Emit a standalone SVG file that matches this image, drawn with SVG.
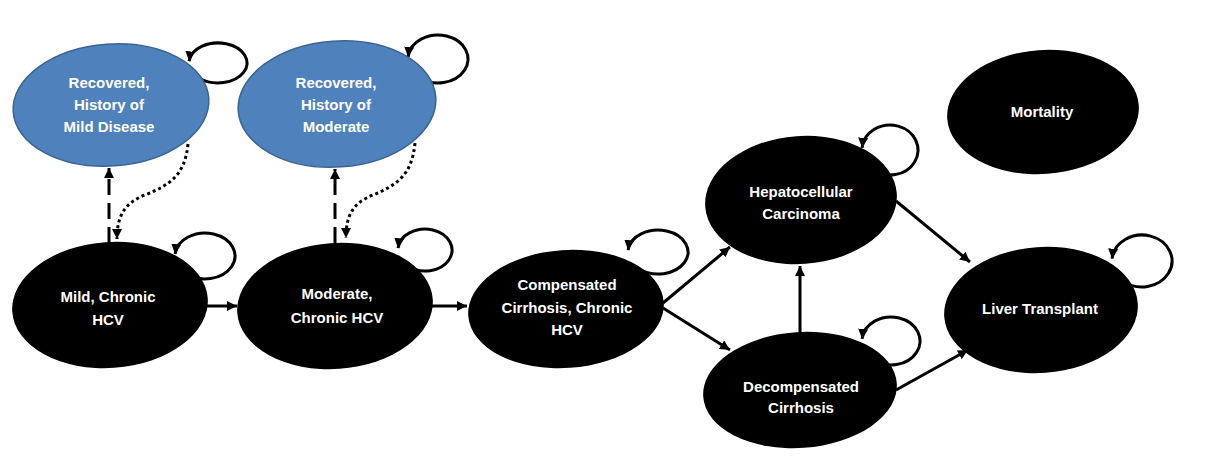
<svg xmlns="http://www.w3.org/2000/svg" width="1220" height="461" viewBox="0 0 1220 461">
<style>
.blue{fill:#4F81BD;stroke:#3B6493;stroke-width:1.5}
.blk{fill:#000}
.t{font-family:"Liberation Sans",Arial,sans-serif;font-weight:bold;font-size:15px;fill:#fff;text-anchor:middle}
.c{fill:none;stroke:#000;stroke-width:3}
.dash{stroke-dasharray:16 8}
.dot{stroke-dasharray:3 3}
</style>
<defs>
<marker id="ah" markerUnits="userSpaceOnUse" markerWidth="11" markerHeight="10" refX="10" refY="5" orient="auto">
<path d="M0,0 L10,5 L0,10 z" fill="#000"/>
</marker>
</defs>
<rect width="1220" height="461" fill="#fff"/>
<g id="connectors">
<path class="c" d="M206,306 L237,306" marker-end="url(#ah)"/>
<path class="c" d="M432,306 L467,306" marker-end="url(#ah)"/>
<path class="c" d="M663,303 L730,247" marker-end="url(#ah)"/>
<path class="c" d="M663,308 L730,350" marker-end="url(#ah)"/>
<path class="c" d="M800,333 L800,266" marker-end="url(#ah)"/>
<path class="c" d="M896,201 L970,262" marker-end="url(#ah)"/>
<path class="c" d="M896,390 L968,350" marker-end="url(#ah)"/>
<path class="c dash" d="M109,243 L109,168" marker-end="url(#ah)"/>
<path class="c dash" d="M335,243 L335,169" marker-end="url(#ah)"/>
<path class="c dot" d="M188,144 C185,175 170,185 145,195 C125,203 117,215 117,239" marker-end="url(#ah)"/>
<path class="c dot" d="M415,143 C412,175 397,185 373,195 C353,203 346,215 346,238" marker-end="url(#ah)"/>
<path class="c" d="M199.4,78.3 A29,20 0 1 0 189.1,61.3" marker-end="url(#ah)"/>
<path class="c" d="M418.7,77.4 A30,24 0 1 0 408.1,56.9" marker-end="url(#ah)"/>
<path class="c" d="M185.7,273.6 A30,23 0 1 0 175.1,254" marker-end="url(#ah)"/>
<path class="c" d="M407.6,266.1 A27,21 0 1 0 398.1,248.2" marker-end="url(#ah)"/>
<path class="c" d="M638.7,268.9 A30,22 0 1 0 628.1,250.1" marker-end="url(#ah)"/>
<path class="c" d="M872,169.2 A28,25 0 1 0 862.1,147.8" marker-end="url(#ah)"/>
<path class="c" d="M872.4,359.4 A29,24 0 1 0 862.1,338.9" marker-end="url(#ah)"/>
<path class="c" d="M1122.7,280.9 A30,26 0 1 0 1112.1,258.7" marker-end="url(#ah)"/>
</g>
<g id="recovered-mild">
<ellipse class="blue" cx="111" cy="105" rx="98" ry="61" transform="rotate(-4 111 105)"/>
<text class="t" x="109" y="88">Recovered,</text>
<text class="t" x="109" y="110">History of</text>
<text class="t" x="109" y="132">Mild Disease</text>
</g>
<g id="recovered-moderate">
<ellipse class="blue" cx="337" cy="104" rx="99" ry="63" transform="rotate(-4 337 104)"/>
<text class="t" x="336" y="88">Recovered,</text>
<text class="t" x="336" y="110">History of</text>
<text class="t" x="336" y="132">Moderate</text>
</g>
<g id="mild-chronic">
<ellipse class="blk" cx="110" cy="305" rx="98" ry="63" transform="rotate(-4 110 305)"/>
<text class="t" x="108" y="302">Mild, Chronic</text>
<text class="t" x="108" y="325">HCV</text>
</g>
<g id="moderate-chronic">
<ellipse class="blk" cx="335" cy="306" rx="98" ry="63" transform="rotate(-4 335 306)"/>
<text class="t" x="337" y="299">Moderate,</text>
<text class="t" x="337" y="323">Chronic HCV</text>
</g>
<g id="compensated">
<ellipse class="blk" cx="566" cy="309" rx="98" ry="59" transform="rotate(-4 566 309)"/>
<text class="t" x="567" y="290">Compensated</text>
<text class="t" x="567" y="313">Cirrhosis, Chronic</text>
<text class="t" x="567" y="335">HCV</text>
</g>
<g id="hcc">
<ellipse class="blk" cx="801" cy="200" rx="96" ry="64" transform="rotate(-4 801 200)"/>
<text class="t" x="801" y="197">Hepatocellular</text>
<text class="t" x="801" y="219">Carcinoma</text>
</g>
<g id="decompensated">
<ellipse class="blk" cx="800" cy="390" rx="97" ry="58" transform="rotate(-4 800 390)"/>
<text class="t" x="801" y="392">Decompensated</text>
<text class="t" x="801" y="413">Cirrhosis</text>
</g>
<g id="mortality">
<ellipse class="blk" cx="1043" cy="112" rx="96" ry="62" transform="rotate(-4 1043 112)"/>
<text class="t" x="1042" y="117">Mortality</text>
</g>
<g id="liver-transplant">
<ellipse class="blk" cx="1041" cy="310" rx="97" ry="63" transform="rotate(-4 1041 310)"/>
<text class="t" x="1040" y="314">Liver Transplant</text>
</g>
</svg>
